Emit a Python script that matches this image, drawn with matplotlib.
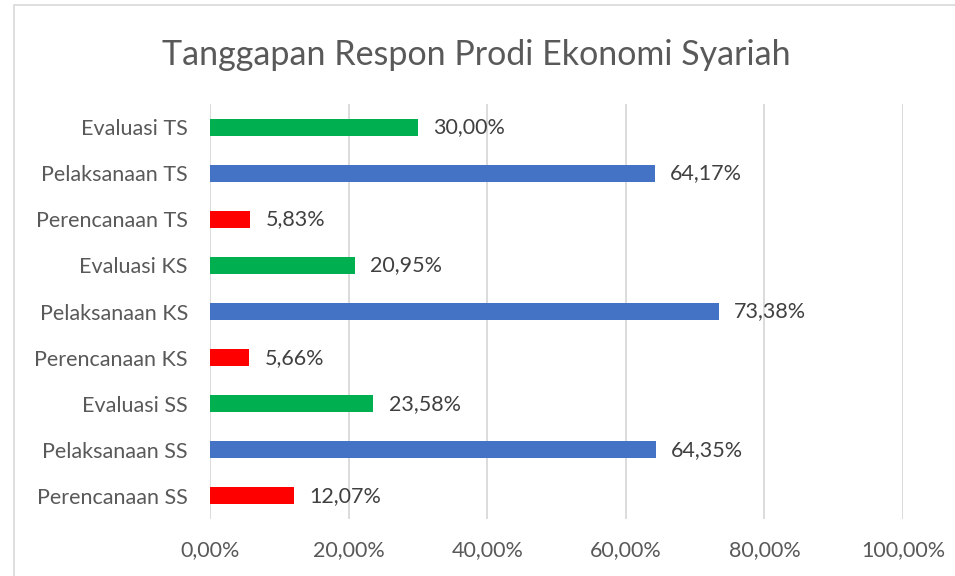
import matplotlib
matplotlib.use("Agg")
import matplotlib.pyplot as plt
from matplotlib.patches import Rectangle
from matplotlib.ticker import FuncFormatter

# Data (bottom to top, as drawn)
categories = [
    "Perencanaan SS", "Pelaksanaan SS", "Evaluasi SS",
    "Perencanaan KS", "Pelaksanaan KS", "Evaluasi KS",
    "Perencanaan TS", "Pelaksanaan TS", "Evaluasi TS",
]
values = [12.07, 64.35, 23.58, 5.66, 73.38, 20.95, 5.83, 64.17, 30.00]
colors = ["#FF0000", "#4472C4", "#00B050"] * 3

plt.rcParams["font.family"] = ["Lato", "DejaVu Sans"]

fig = plt.figure(figsize=(9.55, 5.76), dpi=100)
ax = fig.add_axes([210 / 955, 1 - 519 / 576, (903 - 210) / 955, (519 - 104) / 576])

ypos = range(len(categories))
ax.barh(ypos, values, height=0.37, color=colors, zorder=3)

for y, v in zip(ypos, values):
    ax.text(v + 2.2, y, f"{v:.2f}%".replace(".", ","), va="center", ha="left",
            fontsize=15.5, color="#404040", zorder=4)

ax.set_xlim(0, 100)
ax.set_ylim(-0.5, len(categories) - 0.5)
ax.set_xticks([0, 20, 40, 60, 80, 100])
ax.xaxis.set_major_formatter(FuncFormatter(lambda x, p: f"{x:.2f}%".replace(".", ",")))
ax.set_yticks(list(ypos))
ax.set_yticklabels(categories)
ax.tick_params(axis="both", length=0, labelsize=15.5, colors="#595959")
ax.tick_params(axis="x", pad=15)
ax.tick_params(axis="y", pad=16)
ax.grid(axis="x", color="#D9D9D9", linewidth=1.3, zorder=0)
for s in ax.spines.values():
    s.set_visible(False)

fig.text(476 / 955, 1 - 55 / 576, "Tanggapan Respon Prodi Ekonomi Syariah",
         ha="center", va="center", fontsize=24.5, color="#595959")

# chart border
fig.patches.append(Rectangle((14 / 955, -0.1), 2, 1 - 5 / 576 + 0.1, transform=fig.transFigure,
                             fill=False, edgecolor="#D9D9D9", linewidth=1.2))

fig.savefig("out.png", dpi=100)
